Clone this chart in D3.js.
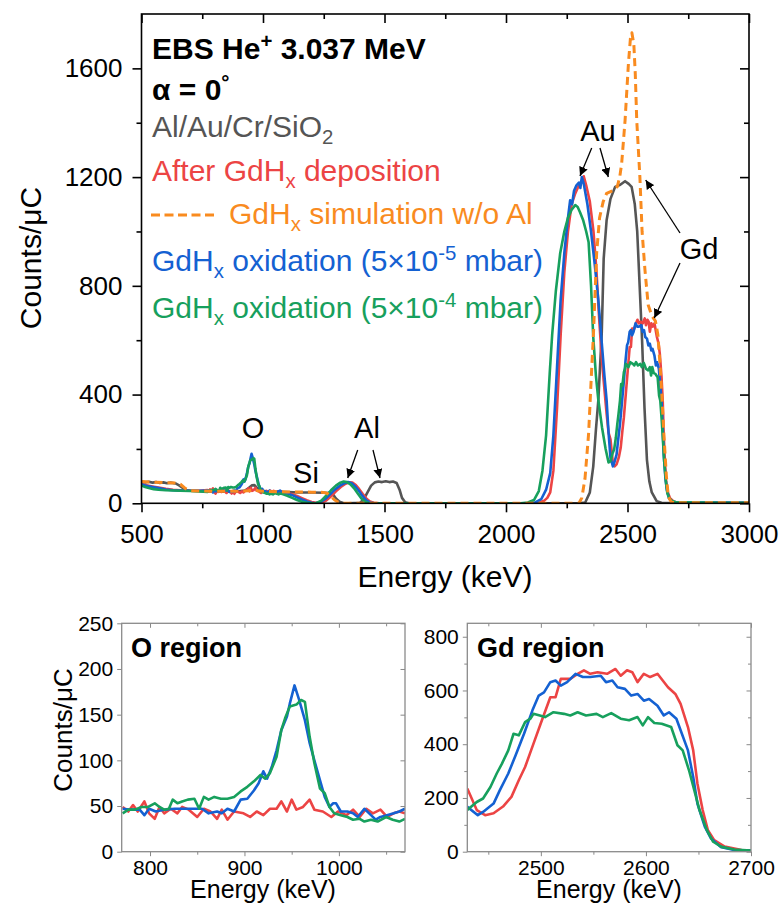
<!DOCTYPE html>
<html>
<head>
<meta charset="utf-8">
<script src="https://cdn.jsdelivr.net/npm/d3@7"></script>
<style>
  body { margin: 0; background: #fff; }
  text { font-family: "Liberation Sans", Arial, sans-serif; }
</style>
</head>
<body>
<div class="chart"></div>
<script>
// ---- data: [energy keV, counts/uC] ----
var grayMain = [[500,80],[515,77],[530,79],[545,76],[560,78],[575,75],[590,77],[605,74],[620,76],[640,73],[655,66],[670,56],[685,49],[700,46],[730,45],[760,44],[800,44],[850,43],[900,44],[925,47],[940,55],[955,66],[965,67],[975,57],[990,47],[1020,43],[1060,42],[1100,41],[1150,40],[1200,40],[1250,39],[1275,38],[1290,30],[1300,18],[1315,6],[1330,1],[1350,0],[1400,2],[1415,15],[1430,40],[1445,65],[1460,77],[1475,80],[1490,78],[1505,81],[1520,78],[1535,80],[1550,75],[1562,50],[1572,20],[1585,4],[1600,0],[2300,0],[2326,3],[2345,40],[2359,135],[2370,270],[2380,380],[2394,625],[2402,900],[2414,1041],[2430,1120],[2449,1164],[2470,1172],[2490,1185],[2505,1175],[2517,1164],[2530,1100],[2540,1000],[2550,800],[2560,600],[2570,350],[2580,160],[2590,80],[2600,40],[2620,8],[2640,2],[2700,1],[3000,1]];

var orangeMain = [[500,80],[530,78],[560,77],[600,76],[640,75],[660,70],[680,55],[700,46],[750,45],[800,44],[900,44],[940,46],[960,50],[980,46],[1000,44],[1100,42],[1200,41],[1250,40],[1265,36],[1280,25],[1295,12],[1310,4],[1325,0],[2300,0],[2312,20],[2325,90],[2340,257],[2353,502],[2360,625],[2373,920],[2385,1050],[2400,1110],[2414,1140],[2440,1150],[2458,1165],[2468,1200],[2476,1250],[2490,1409],[2504,1620],[2512,1710],[2518,1731],[2526,1690],[2532,1580],[2538,1409],[2551,1200],[2560,1000],[2572,857],[2585,730],[2600,690],[2615,670],[2625,620],[2633,520],[2641,404],[2650,250],[2660,100],[2668,24],[2680,5],[2700,2],[3000,2]];

var redLow = [[500,72],[520,66],[545,62],[570,58],[600,53],[630,50],[660,48],[700,46],[740,46]];
var redMid = [[1080,41],[1100,38],[1120,33],[1140,27],[1160,19],[1180,11],[1200,5],[1220,2],[1240,2],[1260,10],[1280,26],[1300,44],[1320,60],[1340,72],[1355,77],[1368,76],[1382,67],[1396,52],[1410,35],[1425,18],[1440,7],[1455,2],[1480,0],[2100,0],[2130,2],[2155,8],[2170,20],[2182,40],[2195,120],[2210,350],[2225,620],[2240,850],[2255,1000],[2270,1100],[2285,1140],[2300,1170],[2312,1185],[2320,1203],[2330,1170],[2345,1110],[2360,1000],[2372,860],[2382,700],[2392,560],[2402,450],[2414,330],[2422,260]];
var redHigh = [[2720,3],[2800,3],[2900,2],[3000,2]];

var blueLow = [[500,70],[520,64],[545,60],[570,56],[600,51],[630,48],[660,47],[700,46],[740,46]];
var blueMid = [[1080,40],[1100,36],[1120,30],[1140,22],[1160,14],[1180,7],[1200,2],[1215,0],[1235,4],[1255,15],[1275,32],[1295,50],[1315,64],[1335,74],[1350,78],[1365,74],[1380,62],[1395,45],[1410,26],[1425,11],[1440,3],[1460,0],[2090,0],[2120,3],[2145,15],[2165,50],[2182,111],[2195,250],[2210,500],[2225,750],[2240,920],[2255,1050],[2264,1115],[2272,1100],[2280,1150],[2290,1170],[2300,1180],[2306,1160],[2312,1200],[2320,1175],[2335,1100],[2350,1000],[2365,880],[2380,747],[2395,580],[2405,470],[2414,380],[2422,260]];
var blueHigh = [[2720,4],[2800,3],[2900,3],[3000,2]];

var greenLow = [[500,65],[515,60],[530,56],[550,52],[570,50],[600,48],[630,47],[660,46],[700,45],[740,44]];
var greenMid = [[1080,34],[1100,28],[1120,20],[1140,12],[1160,6],[1180,2],[1200,0],[1220,1],[1240,10],[1260,28],[1280,48],[1300,65],[1318,76],[1332,80],[1345,78],[1360,70],[1375,55],[1390,36],[1405,18],[1420,6],[1435,1],[1460,0],[2060,0],[2090,3],[2115,12],[2135,45],[2150,120],[2165,250],[2180,480],[2190,620],[2205,780],[2223,920],[2240,1000],[2255,1050],[2270,1080],[2285,1097],[2295,1090],[2305,1070],[2318,1040],[2330,1000],[2340,960],[2350,800],[2359,612],[2370,470],[2380,380],[2395,280],[2410,200],[2422,150]];
var greenHigh = [[2720,4],[2800,3],[2900,2],[3000,2]];

// O region (770-1070 keV)
var redO = [[771,49],[777,44],[782,51],[787,44],[794,55],[799,42],[805,36],[810,49],[815,42],[822,47],[829,42],[834,49],[841,46],[850,38],[857,47],[864,44],[871,36],[876,46],[882,35],[889,44],[899,42],[906,38],[913,44],[920,40],[927,47],[934,47],[939,55],[945,44],[950,57],[955,46],[962,49],[969,57],[974,46],[983,44],[992,38],[999,44],[1008,40],[1015,46],[1022,38],[1029,47],[1036,42],[1044,46],[1051,38],[1058,42],[1064,44],[1070,42]];
var blueO = [[771,47],[780,46],[789,46],[794,40],[799,47],[806,44],[815,46],[826,47],[840,47],[855,47],[862,42],[871,44],[876,42],[882,47],[889,44],[896,57],[903,58],[910,67],[915,75],[920,88],[924,80],[929,93],[934,111],[939,133],[945,148],[948,162],[953,182],[958,166],[964,144],[969,119],[974,100],[980,78],[985,60],[990,49],[994,53],[997,53],[1002,44],[1009,44],[1015,42],[1020,38],[1027,47],[1034,40],[1039,35],[1044,38],[1051,40],[1058,42],[1064,44],[1070,47]];
var greenO = [[771,42],[777,46],[784,46],[791,49],[798,49],[805,53],[810,49],[815,46],[820,47],[824,57],[829,53],[834,55],[840,57],[847,58],[852,47],[857,60],[862,57],[868,60],[875,58],[882,58],[889,60],[896,66],[903,71],[910,77],[917,84],[922,80],[927,86],[934,104],[939,133],[943,146],[948,159],[955,161],[960,166],[964,164],[969,126],[974,97],[980,69],[985,64],[990,49],[995,42],[1002,40],[1009,38],[1015,35],[1022,36],[1027,33],[1034,35],[1041,33],[1050,38],[1057,35],[1064,33],[1070,36]];

// Gd region (2430-2700 keV)
var redGd = [[2430,235],[2439,155],[2447,136],[2455,143],[2464,168],[2472,204],[2479,266],[2485,315],[2493,402],[2501,489],[2509,575],[2514,575],[2519,643],[2528,643],[2535,662],[2541,675],[2547,662],[2554,668],[2563,662],[2571,680],[2576,655],[2582,675],[2587,668],[2592,631],[2598,662],[2604,650],[2611,662],[2621,612],[2628,587],[2633,550],[2640,464],[2645,377],[2649,254],[2654,155],[2659,80],[2665,43],[2675,19],[2691,6],[2700,4]];
var blueGd = [[2430,167],[2440,136],[2445,148],[2455,179],[2461,229],[2469,291],[2476,359],[2484,439],[2492,526],[2498,581],[2503,593],[2509,631],[2514,637],[2519,618],[2525,631],[2533,662],[2540,650],[2547,650],[2557,655],[2562,631],[2568,637],[2573,612],[2580,606],[2586,581],[2592,587],[2598,562],[2603,568],[2611,543],[2617,507],[2622,519],[2629,495],[2633,452],[2640,377],[2645,278],[2649,179],[2656,93],[2662,49],[2671,18],[2684,6],[2700,4]];
var greenGd = [[2430,155],[2439,185],[2445,198],[2452,241],[2458,291],[2463,328],[2469,377],[2474,439],[2479,433],[2485,482],[2490,495],[2493,513],[2499,507],[2504,501],[2512,519],[2522,513],[2528,507],[2535,519],[2543,507],[2553,513],[2559,501],[2567,516],[2576,495],[2584,489],[2592,501],[2597,470],[2602,501],[2608,479],[2615,476],[2624,464],[2630,396],[2635,377],[2641,303],[2646,229],[2651,155],[2658,80],[2664,37],[2672,18],[2684,8],[2700,4]];

// ticks
var mainXTicks = [500, 1000, 1500, 2000, 2500, 3000];
var mainXMinor = [750, 1250, 1750, 2250, 2750];
var mainYTicks = [0, 400, 800, 1200, 1600];
var mainYMinor = [200, 600, 1000, 1400];
var oXTicks = [800, 900, 1000];
var oXMinor = [850, 950, 1050];
var oYTicks = [0, 50, 100, 150, 200, 250];
var gdXTicks = [2500, 2600, 2700];
var gdXMinor = [2450, 2550, 2650];
var gdYTicks = [0, 200, 400, 600, 800];
var gdYMinor = [100, 300, 500, 700];

var colors = { gray: "#555555", red: "#ec4444", orange: "#f98b1f", blue: "#1461d2", green: "#17a05d" };

var svgWidth = 782;
var svgHeight = 904;

var svg = d3.select(".chart")
  .append("svg")
  .attr("width", svgWidth)
  .attr("height", svgHeight)
  .style("display", "block");

svg.append("rect").attr("width", svgWidth).attr("height", svgHeight).attr("fill", "#fff");

var defs = svg.append("defs");
defs.append("marker")
  .attr("id", "arrow")
  .attr("viewBox", "0 0 10 10")
  .attr("refX", 10).attr("refY", 5)
  .attr("markerWidth", 9).attr("markerHeight", 9)
  .attr("markerUnits", "userSpaceOnUse")
  .attr("orient", "auto")
  .append("path")
  .attr("d", "M0,0 L10,5 L0,10 Z")
  .attr("fill", "#000");

// writes text with sub/superscript parts
function richText(text, parts) {
  var shift = 0;
  parts.forEach(function(p) {
    var target = p.sub ? 7 : (p.sup ? -11 : 0);
    var ts = text.append("tspan").text(p.t).attr("dy", target - shift);
    if (p.sub || p.sup) ts.attr("font-size", "0.68em");
    shift = target;
  });
}

// builds one framed panel with mirror ticks
function panel(o) {
  var g = svg.append("g");
  var x = d3.scaleLinear().domain(o.xDomain).range([o.left, o.right]);
  var y = d3.scaleLinear().domain(o.yDomain).range([o.bottom, o.top]);

  var clipId = "clip" + o.name;
  defs.append("clipPath").attr("id", clipId)
    .append("rect")
    .attr("x", o.left).attr("y", o.top)
    .attr("width", o.right - o.left).attr("height", o.bottom - o.top);

  var line = d3.line()
    .x(function(d) { return x(d[0]); })
    .y(function(d) { return y(d[1]); });

  var curves = g.append("g").attr("clip-path", "url(#" + clipId + ")");
  o.series.forEach(function(s) {
    curves.append("path")
      .datum(s.data)
      .attr("d", line)
      .attr("fill", "none")
      .attr("stroke", s.color)
      .attr("stroke-width", s.width)
      .attr("stroke-dasharray", s.dash || null)
      .attr("stroke-linejoin", "round");
  });

  // axes: outward on bottom/left, inward on top/right
  function styleAxis(sel) {
    sel.select(".domain").remove();
    sel.selectAll("line").attr("stroke", o.tickColor).attr("stroke-width", o.tickWidth);
    sel.selectAll("text").attr("font-size", o.tickFont + "px").attr("fill", "#000")
      .style("font-family", "'Liberation Sans', Arial, sans-serif");
  }
  g.append("g").attr("transform", "translate(0," + o.bottom + ")")
    .call(d3.axisBottom(x).tickValues(o.xTicks).tickSize(o.major).tickPadding(o.xPad).tickFormat(d3.format("d")))
    .call(styleAxis);
  g.append("g").attr("transform", "translate(0," + o.bottom + ")")
    .call(d3.axisBottom(x).tickValues(o.xMinor).tickSize(o.minor).tickFormat(""))
    .call(styleAxis);
  g.append("g").attr("transform", "translate(0," + o.top + ")")
    .call(d3.axisTop(x).tickValues(o.xMinor).tickSizeInner(-o.minor).tickSizeOuter(0).tickFormat(""))
    .call(styleAxis);
  g.append("g").attr("transform", "translate(0," + o.top + ")")
    .call(d3.axisTop(x).tickValues(o.xTicks).tickSizeInner(-o.major).tickSizeOuter(0).tickFormat(""))
    .call(styleAxis);
  g.append("g").attr("transform", "translate(" + o.left + ",0)")
    .call(d3.axisLeft(y).tickValues(o.yTicks).tickSize(o.major).tickPadding(o.yPad).tickFormat(d3.format("d")))
    .call(styleAxis);
  g.append("g").attr("transform", "translate(" + o.left + ",0)")
    .call(d3.axisLeft(y).tickValues(o.yMinor).tickSize(o.minor).tickFormat(""))
    .call(styleAxis);
  g.append("g").attr("transform", "translate(" + o.right + ",0)")
    .call(d3.axisRight(y).tickValues(o.yTicks).tickSizeInner(-o.major).tickSizeOuter(0).tickFormat(""))
    .call(styleAxis);
  g.append("g").attr("transform", "translate(" + o.right + ",0)")
    .call(d3.axisRight(y).tickValues(o.yMinor).tickSizeInner(-o.minor).tickSizeOuter(0).tickFormat(""))
    .call(styleAxis);

  g.append("rect")
    .attr("x", o.left).attr("y", o.top)
    .attr("width", o.right - o.left).attr("height", o.bottom - o.top)
    .attr("fill", "none")
    .attr("stroke", o.frameColor)
    .attr("stroke-width", o.frameWidth);

  return { g: g, x: x, y: y };
}

// ---- main panel ----
var main = panel({
  name: "main", left: 141.5, right: 749, top: 14, bottom: 503.3,
  xDomain: [500, 3000], yDomain: [0, 1800],
  xTicks: mainXTicks, xMinor: mainXMinor, yTicks: mainYTicks, yMinor: mainYMinor,
  major: 9, minor: 5, xPad: 12, yPad: 10, tickFont: 26,
  tickColor: "#000", tickWidth: 1.6, frameColor: "#000", frameWidth: 1.6,
  series: [
    { data: grayMain, color: colors.gray, width: 2.6 },
    { data: redLow.concat(redO, redMid, redGd, redHigh), color: colors.red, width: 2.6 },
    { data: blueLow.concat(blueO, blueMid, blueGd, blueHigh), color: colors.blue, width: 2.6 },
    { data: greenLow.concat(greenO, greenMid, greenGd, greenHigh), color: colors.green, width: 2.6 },
    { data: orangeMain, color: colors.orange, width: 3, dash: "8,5" }
  ]
});

// axis titles
svg.append("text")
  .attr("transform", "rotate(-90)")
  .attr("x", -258).attr("y", 41)
  .attr("text-anchor", "middle")
  .attr("font-size", "30px")
  .text("Counts/\u03bcC");
svg.append("text")
  .attr("x", 445).attr("y", 587)
  .attr("text-anchor", "middle")
  .attr("font-size", "30px")
  .text("Energy (keV)");

// legend block
var legX = 152;
var legFont = "30px";
var t1 = svg.append("text").attr("x", legX).attr("y", 59).attr("font-size", legFont).attr("font-weight", "bold");
richText(t1, [{ t: "EBS He" }, { t: "+", sup: true }, { t: " 3.037 MeV" }]);
var t2 = svg.append("text").attr("x", legX).attr("y", 100).attr("font-size", legFont).attr("font-weight", "bold");
richText(t2, [{ t: "\u03b1 = 0" }, { t: "\u00b0", sup: true }]);
var t3 = svg.append("text").attr("x", legX).attr("y", 137).attr("font-size", legFont).attr("fill", colors.gray);
richText(t3, [{ t: "Al/Au/Cr/SiO" }, { t: "2", sub: true }]);
var t4 = svg.append("text").attr("x", legX).attr("y", 181).attr("font-size", legFont).attr("fill", colors.red);
richText(t4, [{ t: "After GdH" }, { t: "x", sub: true }, { t: " deposition" }]);
svg.append("line")
  .attr("x1", 151).attr("x2", 218).attr("y1", 215).attr("y2", 215)
  .attr("stroke", colors.orange).attr("stroke-width", 3).attr("stroke-dasharray", "9,4.5");
var t5 = svg.append("text").attr("x", 229).attr("y", 224).attr("font-size", legFont).attr("fill", colors.orange);
richText(t5, [{ t: "GdH" }, { t: "x", sub: true }, { t: " simulation w/o Al" }]);
var t6 = svg.append("text").attr("x", legX).attr("y", 271).attr("font-size", legFont).attr("fill", colors.blue);
richText(t6, [{ t: "GdH" }, { t: "x", sub: true }, { t: " oxidation (5\u00d710" }, { t: "-5", sup: true }, { t: " mbar)" }]);
var t7 = svg.append("text").attr("x", legX).attr("y", 318).attr("font-size", legFont).attr("fill", colors.green);
richText(t7, [{ t: "GdH" }, { t: "x", sub: true }, { t: " oxidation (5\u00d710" }, { t: "-4", sup: true }, { t: " mbar)" }]);

// element labels and arrows
var labels = [
  { t: "O", x: 253, y: 438 },
  { t: "Si", x: 306, y: 483 },
  { t: "Al", x: 367, y: 438 },
  { t: "Au", x: 598, y: 141 },
  { t: "Gd", x: 699, y: 259 }
];
svg.selectAll(".elabel")
  .data(labels)
  .enter().append("text")
  .attr("class", "elabel")
  .attr("x", function(d) { return d.x; })
  .attr("y", function(d) { return d.y; })
  .attr("text-anchor", "middle")
  .attr("font-size", "29px")
  .text(function(d) { return d.t; });

var arrows = [
  [357.7, 450, 347.7, 478], [373, 450, 380, 478],
  [591.7, 148, 580, 176], [600, 148, 608.3, 177],
  [680, 233, 645.7, 180], [680, 263, 654.3, 318]
];
svg.selectAll(".arr")
  .data(arrows)
  .enter().append("line")
  .attr("class", "arr")
  .attr("x1", function(d) { return d[0]; })
  .attr("y1", function(d) { return d[1]; })
  .attr("x2", function(d) { return d[2]; })
  .attr("y2", function(d) { return d[3]; })
  .attr("stroke", "#000")
  .attr("stroke-width", 1.3)
  .attr("marker-end", "url(#arrow)");

// ---- O region ----
var oPanel = panel({
  name: "O", left: 121.7, right: 405, top: 623.3, bottom: 851.7,
  xDomain: [770, 1070], yDomain: [0, 250],
  xTicks: oXTicks, xMinor: oXMinor, yTicks: oYTicks, yMinor: [],
  major: 4.5, minor: 3, xPad: 4, yPad: 4, tickFont: 21,
  tickColor: "#888", tickWidth: 1, frameColor: "#8a8a8a", frameWidth: 1.3,
  series: [
    { data: redO, color: colors.red, width: 2.6 },
    { data: blueO, color: colors.blue, width: 2.6 },
    { data: greenO, color: colors.green, width: 2.6 }
  ]
});
svg.append("text").attr("x", 131).attr("y", 657)
  .attr("font-size", "27px").attr("font-weight", "bold").text("O region");
svg.append("text")
  .attr("transform", "rotate(-90)")
  .attr("x", -730).attr("y", 72)
  .attr("text-anchor", "middle")
  .attr("font-size", "26px")
  .text("Counts/\u03bcC");
svg.append("text")
  .attr("x", 263).attr("y", 898)
  .attr("text-anchor", "middle")
  .attr("font-size", "25px")
  .text("Energy (keV)");

// ---- Gd region ----
var gdPanel = panel({
  name: "Gd", left: 467.3, right: 751, top: 623.3, bottom: 851.7,
  xDomain: [2430, 2700], yDomain: [0, 850],
  xTicks: gdXTicks, xMinor: gdXMinor, yTicks: gdYTicks, yMinor: gdYMinor,
  major: 4.5, minor: 3, xPad: 4, yPad: 4, tickFont: 21,
  tickColor: "#888", tickWidth: 1, frameColor: "#8a8a8a", frameWidth: 1.3,
  series: [
    { data: redGd, color: colors.red, width: 2.6 },
    { data: blueGd, color: colors.blue, width: 2.6 },
    { data: greenGd, color: colors.green, width: 2.6 }
  ]
});
svg.append("text").attr("x", 477).attr("y", 657)
  .attr("font-size", "27px").attr("font-weight", "bold").text("Gd region");
svg.append("text")
  .attr("x", 609).attr("y", 898)
  .attr("text-anchor", "middle")
  .attr("font-size", "25px")
  .text("Energy (keV)");
</script>
</body>
</html>
